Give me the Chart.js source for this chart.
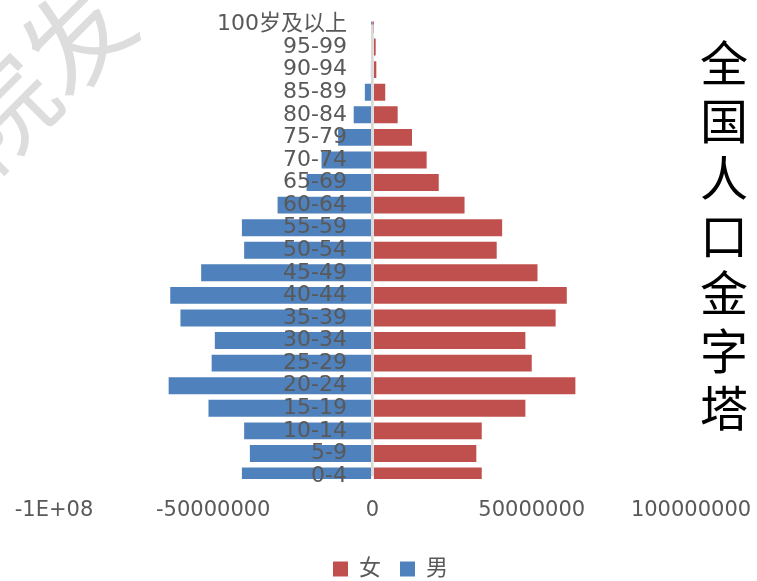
<!DOCTYPE html>
<html>
<head>
<meta charset="utf-8">
<script src="https://cdn.jsdelivr.net/npm/chart.js@4.4.1/dist/chart.umd.min.js"></script>
<style>
  html, body { margin: 0; padding: 0; background: #fff; overflow: hidden; }
  #wrap { position: relative; width: 757px; height: 581px; overflow: hidden; }
  #pyramid { position: absolute; left: 0; top: 0; }
  .watermark {
    position: absolute; left: -55px; top: 55px;
    font: 400 105px 'Noto Sans CJK SC'; line-height: 105px;
    color: #dddddd; white-space: nowrap;
    transform-origin: 52px 52px; transform: rotate(-45deg);
  }
  .side-title {
    position: absolute; left: 700px; top: 39px;
    writing-mode: vertical-rl;
    font: 400 48px 'Noto Sans CJK SC'; line-height: 48px;
    letter-spacing: 9.5px; color: #000;
  }
</style>
</head>
<body>
<div id="wrap">
  <div class="watermark">院发</div>
  <canvas id="pyramid" width="757" height="581"></canvas>
  <div class="side-title">全国人口金字塔</div>
</div>
<script>
'use strict';

// ── Data (bottom row first) ───────────────────────────────
const ageGroups = ['0-4', '5-9', '10-14', '15-19', '20-24', '25-29', '30-34', '35-39',
  '40-44', '45-49', '50-54', '55-59', '60-64', '65-69', '70-74', '75-79',
  '80-84', '85-89', '90-94', '95-99', '100岁及以上'];

const female = [34300000, 32600000, 34300000, 48000000, 63700000, 50000000, 48000000, 57500000,
  61000000, 51800000, 39000000, 40700000, 28900000, 20800000, 17000000, 12400000,
  7900000, 4000000, 1200000, 1000000, 30000];

const male = [-41000000, -38500000, -40300000, -51500000, -64000000, -50500000, -49500000, -60300000,
  -63500000, -53800000, -40300000, -41000000, -29800000, -20700000, -16000000, -10800000,
  -5900000, -2400000, -500000, -120000, -10000];

const xTickLabels = ['-1E+08', '-50000000', '0', '50000000', '100000000'];

// ── Styling ──────────────────────────────────────────────
const RED  = '#C0504D';
const BLUE = '#4F81BD';
const TEXT = '#595959';
const FONT = "'DejaVu Sans', 'Noto Sans CJK SC', sans-serif";

// legend is centred a little right of the plot in the original
const legendShift = {
  id: 'legendShift',
  afterLayout(chart) {
    chart.legend.left += 18;
    chart.legend.right += 18;
  }
};

new Chart(document.getElementById('pyramid'), {
  type: 'bar',
  data: {
    labels: ageGroups,
    datasets: [
      { label: '女', data: female, backgroundColor: RED, borderWidth: 0, clip: 3 },
      { label: '男', data: male, backgroundColor: BLUE, borderWidth: 0, clip: 3 }
    ]
  },
  options: {
    indexAxis: 'y',
    responsive: false,
    animation: false,
    barPercentage: 0.75,
    categoryPercentage: 1,
    layout: { padding: { left: 54, right: 66, top: 24.5, bottom: -9 } },
    plugins: {
      tooltip: { enabled: false },
      legend: {
        position: 'bottom',
        labels: {
          boxWidth: 15, boxHeight: 15, padding: 19,
          color: TEXT, font: { family: FONT, size: 22 }
        }
      }
    },
    scales: {
      x: {
        stacked: true,
        min: -100000000, max: 100000000,
        afterFit: s => { s.height = 63; },
        border: { display: false },
        grid: {
          z: 1, drawTicks: true, tickLength: 22, tickColor: 'rgba(0,0,0,0)', lineWidth: 2.7,
          color: c => (c.tick && c.tick.value === 0) ? '#d9d9d9' : 'rgba(0,0,0,0)'
        },
        ticks: {
          stepSize: 50000000, maxRotation: 0, autoSkip: false, padding: 0,
          color: TEXT, font: { family: FONT, size: 21 },
          callback: (v, i) => xTickLabels[i]
        }
      },
      y: {
        stacked: true,
        reverse: true,
        offset: false,
        position: { x: -8000000 },
        border: { display: false },
        grid: { display: false },
        ticks: {
          z: 1, autoSkip: false,
          color: TEXT, font: { family: FONT, size: 22 }
        }
      }
    }
  },
  plugins: [legendShift]
});
</script>
</body>
</html>
